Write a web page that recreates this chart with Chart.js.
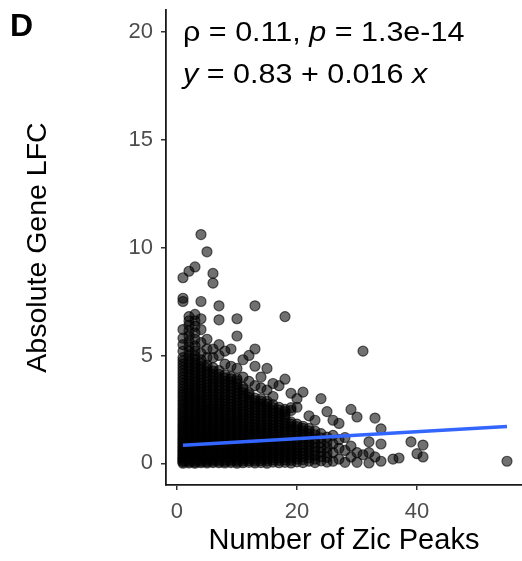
<!DOCTYPE html>
<html>
<head>
<meta charset="utf-8">
<script src="https://cdn.jsdelivr.net/npm/chart.js@4.4.1/dist/chart.umd.min.js"></script>
<style>
  html, body { margin: 0; padding: 0; background: #fff; }
  #wrap { width: 522px; height: 561px; }
</style>
</head>
<body>
<div id="wrap"><canvas id="zicChart" width="522" height="561"></canvas></div>
<script>
// genes grouped by their number of Zic peaks; one list of |LFC| values per peak count
const zicPeaks = [1, 2, 3, 4, 5, 6, 7, 8, 9, 10, 11, 12, 13, 14, 15, 16, 17, 18, 19, 20,
  21, 22, 23, 24, 25, 26, 27, 28, 29, 30, 31, 32, 33, 34, 36, 37, 39, 40, 41, 55];
const absLfc = [
  [0.01, 0.07, 0.12, 0.18, 0.24, 0.3, 0.37, 0.44, 0.51, 0.58, 0.65, 0.72, 0.8, 0.88, 0.96, 1.04, 1.12, 1.2, 1.29, 1.38, 1.47, 1.56, 1.65, 1.74, 1.84, 1.94, 2.04, 2.14, 2.25, 2.36, 2.47, 2.58, 2.7, 2.82, 2.94, 3.06, 3.19, 3.32, 3.45, 3.58, 3.72, 3.86, 4.0, 4.15, 4.3, 4.45, 4.6, 4.75, 4.9, 5.2, 5.5, 5.8, 6.2, 7.5, 7.65, 8.6],
  [0.02, 0.08, 0.14, 0.2, 0.26, 0.33, 0.4, 0.47, 0.54, 0.61, 0.68, 0.76, 0.84, 0.92, 1.0, 1.08, 1.16, 1.25, 1.34, 1.43, 1.52, 1.61, 1.7, 1.8, 1.9, 2.0, 2.1, 2.21, 2.32, 2.43, 2.54, 2.66, 2.78, 2.9, 3.02, 3.14, 3.27, 3.4, 3.53, 3.67, 3.81, 3.95, 4.09, 4.24, 4.39, 4.54, 4.7, 4.86, 5.02, 5.2, 5.4, 5.65, 5.9, 6.15, 6.4, 6.6, 6.8, 8.9],
  [0.01, 0.06, 0.12, 0.18, 0.25, 0.32, 0.39, 0.46, 0.53, 0.6, 0.68, 0.76, 0.84, 0.92, 1.0, 1.09, 1.18, 1.27, 1.36, 1.45, 1.54, 1.64, 1.74, 1.84, 1.94, 2.04, 2.15, 2.26, 2.37, 2.48, 2.6, 2.72, 2.84, 2.96, 3.09, 3.22, 3.35, 3.48, 3.62, 3.76, 3.9, 4.05, 4.2, 4.35, 4.5, 4.66, 4.82, 4.98, 5.2, 5.45, 5.75, 6.05, 6.35, 6.6, 6.9, 9.1],
  [0.03, 0.09, 0.15, 0.22, 0.29, 0.36, 0.43, 0.5, 0.58, 0.66, 0.74, 0.82, 0.9, 0.99, 1.08, 1.17, 1.26, 1.35, 1.45, 1.55, 1.65, 1.75, 1.85, 1.96, 2.07, 2.18, 2.29, 2.41, 2.53, 2.65, 2.77, 2.9, 3.03, 3.16, 3.29, 3.43, 3.57, 3.71, 3.86, 4.01, 4.16, 4.32, 4.48, 4.64, 4.8, 5.1, 5.6, 6.2, 6.7, 7.5, 10.6],
  [0.02, 0.08, 0.15, 0.22, 0.29, 0.36, 0.44, 0.52, 0.6, 0.68, 0.76, 0.85, 0.94, 1.03, 1.12, 1.21, 1.31, 1.41, 1.51, 1.61, 1.72, 1.83, 1.94, 2.05, 2.17, 2.29, 2.41, 2.53, 2.66, 2.79, 2.92, 3.05, 3.19, 3.33, 3.47, 3.62, 3.77, 3.92, 4.08, 4.24, 4.4, 4.55, 4.9, 5.3, 5.75, 9.8],
  [0.04, 0.1, 0.17, 0.24, 0.31, 0.39, 0.47, 0.55, 0.63, 0.72, 0.81, 0.9, 0.99, 1.08, 1.18, 1.28, 1.38, 1.48, 1.59, 1.7, 1.81, 1.92, 2.04, 2.16, 2.28, 2.4, 2.53, 2.66, 2.79, 2.93, 3.07, 3.21, 3.35, 3.5, 3.65, 3.8, 3.96, 4.12, 4.28, 4.44, 4.9, 5.3, 8.35, 8.8],
  [0.03, 0.1, 0.17, 0.25, 0.33, 0.41, 0.49, 0.58, 0.67, 0.76, 0.85, 0.94, 1.04, 1.14, 1.24, 1.34, 1.45, 1.56, 1.67, 1.78, 1.9, 2.02, 2.14, 2.26, 2.39, 2.52, 2.65, 2.78, 2.92, 3.06, 3.2, 3.35, 3.5, 3.65, 3.81, 3.97, 4.13, 4.3, 5.0, 5.5, 6.65, 7.3],
  [0.02, 0.09, 0.17, 0.25, 0.33, 0.42, 0.51, 0.6, 0.69, 0.78, 0.88, 0.98, 1.08, 1.18, 1.29, 1.4, 1.51, 1.62, 1.74, 1.86, 1.98, 2.1, 2.23, 2.36, 2.49, 2.62, 2.76, 2.9, 3.04, 3.19, 3.34, 3.49, 3.64, 3.8, 3.96, 4.1, 4.6, 5.2],
  [0.04, 0.11, 0.19, 0.27, 0.35, 0.44, 0.53, 0.62, 0.72, 0.82, 0.92, 1.02, 1.13, 1.24, 1.35, 1.46, 1.58, 1.7, 1.82, 1.94, 2.07, 2.2, 2.33, 2.46, 2.6, 2.74, 2.88, 3.02, 3.17, 3.32, 3.47, 3.62, 3.78, 3.92, 4.02, 4.5, 5.3],
  [0.01, 0.09, 0.17, 0.26, 0.35, 0.44, 0.53, 0.63, 0.73, 0.83, 0.93, 1.04, 1.15, 1.26, 1.37, 1.49, 1.61, 1.73, 1.85, 1.98, 2.11, 2.24, 2.37, 2.51, 2.65, 2.79, 2.93, 3.08, 3.23, 3.38, 3.53, 3.68, 3.82, 3.92, 4.4, 5.9, 6.7],
  [0.03, 0.11, 0.2, 0.29, 0.38, 0.48, 0.58, 0.68, 0.79, 0.9, 1.01, 1.12, 1.24, 1.36, 1.48, 1.6, 1.73, 1.86, 1.99, 2.12, 2.26, 2.4, 2.54, 2.68, 2.83, 2.98, 3.13, 3.28, 3.42, 3.53, 4.0, 4.8],
  [0.05, 0.13, 0.22, 0.31, 0.41, 0.51, 0.61, 0.72, 0.83, 0.94, 1.05, 1.17, 1.29, 1.41, 1.53, 1.66, 1.79, 1.92, 2.05, 2.19, 2.33, 2.47, 2.61, 2.76, 2.91, 3.06, 3.18, 3.28, 3.8, 5.0],
  [0.02, 0.11, 0.2, 0.3, 0.4, 0.5, 0.61, 0.72, 0.83, 0.94, 1.06, 1.18, 1.3, 1.42, 1.55, 1.68, 1.81, 1.94, 2.08, 2.22, 2.36, 2.5, 2.64, 2.78, 2.9, 3.02, 3.6, 4.5, 5.3, 7.3],
  [0.04, 0.13, 0.23, 0.33, 0.44, 0.55, 0.66, 0.77, 0.89, 1.01, 1.13, 1.25, 1.38, 1.51, 1.64, 1.77, 1.91, 2.05, 2.19, 2.33, 2.47, 2.61, 2.75, 2.88, 3.0, 3.5, 4.0],
  [0.01, 0.11, 0.21, 0.31, 0.42, 0.53, 0.64, 0.76, 0.88, 1.0, 1.12, 1.25, 1.38, 1.51, 1.64, 1.78, 1.92, 2.06, 2.2, 2.34, 2.48, 2.62, 2.75, 2.88, 3.4, 4.4],
  [0.06, 0.16, 0.27, 0.38, 0.49, 0.6, 0.72, 0.84, 0.96, 1.08, 1.21, 1.34, 1.47, 1.6, 1.74, 1.88, 2.02, 2.16, 2.3, 2.44, 2.58, 2.72, 3.1, 3.7],
  [0.03, 0.14, 0.25, 0.36, 0.48, 0.6, 0.72, 0.84, 0.97, 1.1, 1.23, 1.36, 1.5, 1.64, 1.78, 1.92, 2.06, 2.2, 2.34, 2.47, 2.6, 3.6],
  [0.05, 0.16, 0.28, 0.4, 0.52, 0.64, 0.77, 0.9, 1.03, 1.16, 1.3, 1.44, 1.58, 1.72, 1.86, 2.0, 2.14, 2.28, 2.4, 2.5, 3.9, 6.8],
  [0.02, 0.14, 0.26, 0.38, 0.5, 0.63, 0.76, 0.89, 1.02, 1.15, 1.29, 1.43, 1.57, 1.7, 1.82, 1.92, 2.45, 2.58, 3.25],
  [0.07, 0.2, 0.33, 0.46, 0.59, 0.72, 0.86, 1.0, 1.14, 1.28, 1.42, 1.56, 1.7, 1.82, 2.6, 3.0],
  [0.04, 0.18, 0.32, 0.46, 0.6, 0.75, 0.9, 1.05, 1.2, 1.35, 1.5, 1.62, 1.72, 3.3],
  [0.1, 0.25, 0.4, 0.56, 0.72, 0.88, 1.04, 1.2, 1.36, 1.5, 1.62, 2.2],
  [0.04, 0.2, 0.38, 0.56, 0.74, 0.93, 1.12, 1.32, 1.5, 2.0],
  [0.12, 0.32, 0.52, 0.74, 0.96, 1.18, 1.38, 3.0],
  [0.06, 0.28, 0.5, 0.74, 0.98, 1.22, 2.4],
  [0.1, 0.5, 0.9, 1.3, 2.0],
  [0.2, 0.7, 1.1, 1.85],
  [0.05, 0.6, 1.2],
  [0.3, 0.8, 2.5],
  [0.05, 0.5, 2.15],
  [0.4, 5.2],
  [0.02, 0.5, 1.0],
  [0.3, 2.1],
  [0.1, 0.9, 1.6],
  [0.2],
  [0.25],
  [1.0],
  [0.45],
  [0.3, 0.85],
  [0.1]
];

// linear fit shown in the annotation
const fitIntercept = 0.83;
const fitSlope = 0.016;
const fitRange = [1, 55];

const xTicks = [0, 20, 40];
const yTicks = [0, 5, 10, 15, 20];

const FONT = '"Liberation Sans", Arial, Helvetica, sans-serif';

const points = [];
zicPeaks.forEach((n, i) => {
  absLfc[i].forEach(v => points.push({ x: n, y: v }));
});
const fitLine = fitRange.map(x => ({ x: x, y: fitIntercept + fitSlope * x }));

// panel letter and the correlation / regression text
const labelsPlugin = {
  id: 'panelText',
  afterDraw(chart) {
    const ctx = chart.ctx;
    ctx.save();
    ctx.fillStyle = '#000';
    ctx.textBaseline = 'alphabetic';
    ctx.font = 'bold 32px ' + FONT;
    ctx.fillText('D', 10, 36);

    // mixed upright / italic runs, widened a little like the rest of the figure text
    const drawRich = (x, y, parts, size) => {
      ctx.save();
      ctx.translate(x, y);
      ctx.scale(1.13, 1);
      let cx = 0;
      parts.forEach(([text, italic]) => {
        ctx.font = (italic ? 'italic ' : '') + size + 'px ' + FONT;
        ctx.fillText(text, cx, 0);
        cx += ctx.measureText(text).width;
      });
      ctx.restore();
    };
    drawRich(183, 41, [['\u03C1 = 0.11, ', false], ['p', true], [' = 1.3e-14', false]], 27);
    drawRich(183, 83, [['y', true], [' = 0.83 + 0.016 ', false], ['x', true]], 27);
    ctx.restore();
  }
};

new Chart(document.getElementById('zicChart'), {
  type: 'scatter',
  data: {
    datasets: [
      {
        type: 'line',
        data: fitLine,
        borderColor: '#3366FF',
        borderWidth: 3.5,
        pointRadius: 0,
        fill: false,
        order: 0
      },
      {
        data: points,
        backgroundColor: 'rgba(0,0,0,0.56)',
        borderColor: 'rgba(0,0,0,0.62)',
        borderWidth: 1.2,
        pointRadius: 5,
        order: 1
      }
    ]
  },
  options: {
    responsive: false,
    devicePixelRatio: 1,
    animation: false,
    layout: { autoPadding: false, padding: { top: 10, left: 0, right: 0, bottom: 0 } },
    plugins: {
      legend: { display: false },
      tooltip: { enabled: false }
    },
    scales: {
      x: {
        type: 'linear',
        min: -1.83,
        max: 57.5,
        afterBuildTicks: s => { s.ticks = xTicks.map(v => ({ value: v })); },
        afterFit: s => { s.height = 76; s.paddingLeft = 0; s.paddingRight = 0; },
        border: { color: '#1a1a1a', width: 1.8 },
        grid: { drawOnChartArea: false, drawTicks: true, tickLength: 5, color: '#333', lineWidth: 1.5 },
        ticks: { color: '#4d4d4d', font: { size: 22, family: FONT }, padding: 9, maxRotation: 0 },
        title: {
          display: true,
          text: 'Number of Zic Peaks',
          color: '#000',
          font: { size: 29, family: FONT },
          padding: { top: 0, bottom: 3 }
        }
      },
      y: {
        min: -1,
        max: 21,
        afterBuildTicks: s => { s.ticks = yTicks.map(v => ({ value: v })); },
        afterFit: s => { s.width = 166; s.paddingTop = 0; s.paddingBottom = 0; },
        border: { color: '#1a1a1a', width: 1.8 },
        grid: { drawOnChartArea: false, drawTicks: true, tickLength: 5, color: '#333', lineWidth: 1.5 },
        ticks: { color: '#4d4d4d', font: { size: 22, family: FONT }, padding: 8 },
        title: {
          display: true,
          text: 'Absolute Gene LFC',
          color: '#000',
          font: { size: 28.5, family: FONT },
          padding: { top: 21, bottom: 0 }
        }
      }
    }
  },
  plugins: [labelsPlugin]
});
</script>
</body>
</html>
